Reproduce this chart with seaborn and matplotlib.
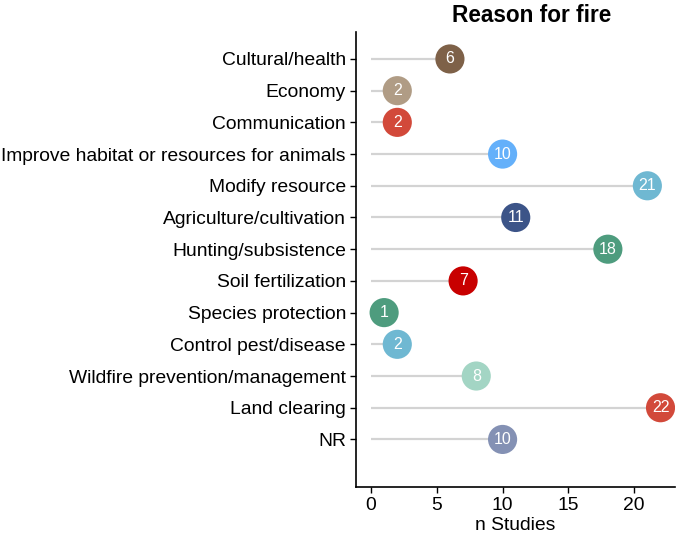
import matplotlib
matplotlib.use("Agg")
import matplotlib.pyplot as plt
import seaborn as sns
import pandas as pd

reasons = ["Cultural/health", "Economy", "Communication",
           "Improve habitat or resources for animals", "Modify resource",
           "Agriculture/cultivation", "Hunting/subsistence", "Soil fertilization",
           "Species protection", "Control pest/disease",
           "Wildfire prevention/management", "Land clearing", "NR"]
n_studies = [6, 2, 2, 10, 21, 11, 18, 7, 1, 2, 8, 22, 10]
colors = ["#7E6148", "#B09C85", "#D2493A", "#64B0FA", "#6FB8D2", "#3C5488",
          "#4E9C7E", "#C80000", "#4E9C7E", "#6FB8D2", "#A3D5C4", "#D2493A", "#8491B4"]
x_ticks = [0, 5, 10, 15, 20]

sns.set_theme(style="ticks")
plt.rcParams['font.family'] = ['Liberation Sans', 'DejaVu Sans']
plt.rcParams['text.color'] = 'black'

df = pd.DataFrame({"reason": reasons, "n": n_studies})
df["pos"] = range(len(reasons))

fig = plt.figure(figsize=(6.77, 5.39), dpi=100)
ax = fig.add_axes([355.7/677, 1-487/539, (675-355.7)/677, (487-32)/539])

ax.hlines(df["pos"], 0, df["n"], color="#D3D3D3", lw=1.6, zorder=1)
sns.scatterplot(data=df, x="n", y="pos", hue="reason", palette=colors,
                s=440, edgecolor="none", legend=False, ax=ax, zorder=2)
for p, v in zip(df["pos"], df["n"]):
    ax.text(v, p, str(v), color="white", ha="center", va="center", fontsize=11.5, zorder=3)

ax.set_yticks(df["pos"])
ax.set_yticklabels(reasons, fontsize=13.9, color="black")
ax.set_ylim(13.5, -0.85)
ax.set_xlim(-1.16, 23.1)
ax.set_xticks(x_ticks)
ax.tick_params(axis="x", labelsize=13.9, colors="black", length=4, width=1, pad=3)
ax.tick_params(axis="y", length=4, width=1, colors="black", pad=3)
ax.set_xlabel("n Studies", fontsize=13.9, color="black", labelpad=2)
ax.set_ylabel("")
for s in ["top", "right"]:
    ax.spines[s].set_visible(False)
for s in ["left", "bottom"]:
    ax.spines[s].set_color("black")
    ax.spines[s].set_linewidth(1.2)

fig.text(532/677, 1-15/539, "Reason for fire", ha="center", va="center",
         fontsize=16.3, fontweight="bold", color="black")

fig.savefig("out.png", dpi=100)
